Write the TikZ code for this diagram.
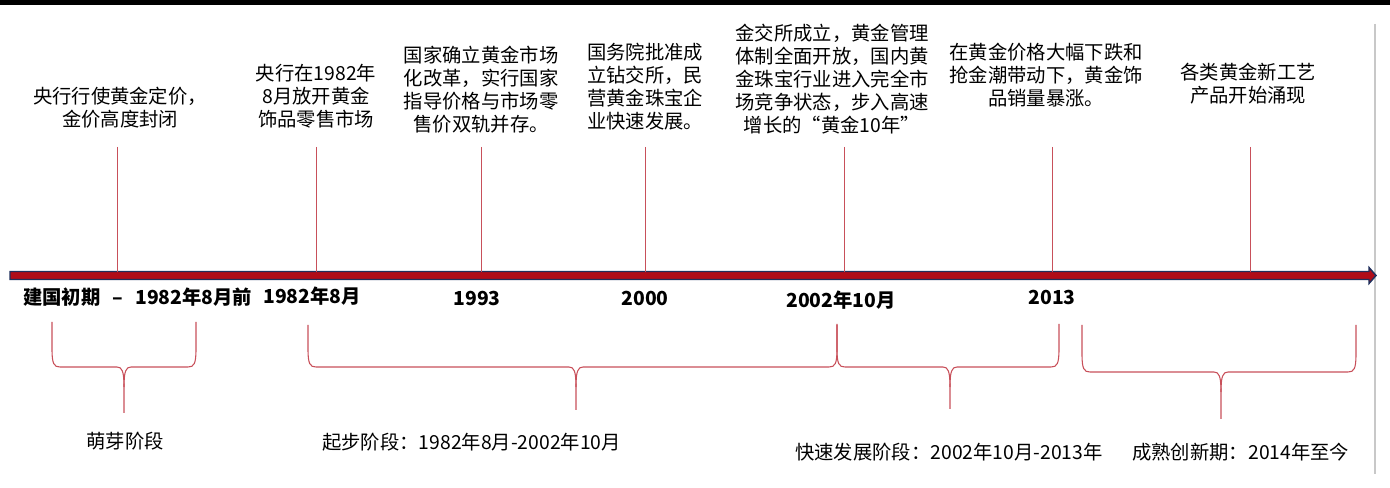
\documentclass[tikz,border=0pt]{standalone}
\usepackage{fontspec}
\setmainfont{Noto Sans CJK SC}
\definecolor{tickred}{HTML}{C8505A}
\definecolor{barred}{HTML}{B00C18}
\definecolor{barnavy}{HTML}{1F2F5C}
\definecolor{edgegray}{HTML}{C8C8C8}
\tikzset{
  event/.style={align=center, inner sep=0pt, font=\fontsize{14.5}{17.25}\selectfont},
  axislabel/.style={inner sep=0pt, font=\fontsize{14.5}{16}\selectfont\bfseries},
  stagelabel/.style={inner sep=0pt, font=\fontsize{14.5}{17}\selectfont},
  tickline/.style={draw=tickred, line width=0.6pt},
  bracepath/.style={draw=tickred, line width=0.8pt},
}
\begin{document}
\begin{tikzpicture}[x=0.75pt,y=-0.75pt]
\useasboundingbox (0,0) rectangle (1390,488);
% top black rule
\fill[black] (0,0) rectangle (1390,5);
% right gray edge
\coordinate (gtop) at (1375,24);
\coordinate (gbot) at (1375,474);
\draw[edgegray, line width=1pt] (gtop) -- (gbot);
% timeline arrow
\filldraw[fill=barred, draw=barnavy, line width=1.1pt]
  (10,271.5) -- (1369,271.5) -- (1369,267.5) -- (1376,275.5) -- (1369,283.5) -- (1369,279.5) -- (10,279.5) -- cycle;

% event texts
\node[event] (e1) at (120,108) {央行行使黄金定价，\\金价高度封闭};
\node[event] (e2) at (316,96) {央行在1982年\\8月放开黄金\\饰品零售市场};
\node[event] (e3) at (481,90) {国家确立黄金市场\\化改革，实行国家\\指导价格与市场零\\售价双轨并存。};
\node[event] (e4) at (645,87) {国务院批准成\\立钻交所，民\\营黄金珠宝企\\业快速发展。};
\node[event] (e5) at (832,79) {金交所成立，黄金管理\\体制全面开放，国内黄\\金珠宝行业进入完全市\\场竞争状态，步入高速\\增长的“黄金10年”};
\node[event] (e6) at (1046,75) {在黄金价格大幅下跌和\\抢金潮带动下，黄金饰\\品销量暴涨。};
\node[event] (e7) at (1248,84) {各类黄金新工艺\\产品开始涌现};

% ticks
\foreach \i/\x in {1/117,2/316,3/481,4/645,5/844,6/1052,7/1250}{
  \coordinate (t\i a) at (\x,147);
  \coordinate (t\i b) at (\x,272);
  \draw[tickline] (t\i a) -- (t\i b);
}

% axis labels
\node[axislabel, anchor=west] (a1) at (23,297) {建国初期 \, – \, 1982年8月前};
\node[axislabel, anchor=west] (a2) at (263,296) {1982年8月};
\node[axislabel] (a3) at (477,298) {1993};
\node[axislabel] (a4) at (645,298) {2000};
\node[axislabel] (a5) at (841,300) {2002年10月};
\node[axislabel] (a6) at (1052,297) {2013};

% braces
\foreach \xl/\xr/\xc/\top/\h/\tip in {52/196/124/322/367/413, 308/837/576/325/367/410, 837/1059/950/324/367/409, 1082/1356/1221/325/372/419}{
  \draw[bracepath] (\xl,\top) -- (\xl,\h-18) .. controls (\xl,\h-3) and (\xl+2,\h) .. (\xl+8,\h)
     -- (\xc-7,\h) .. controls (\xc-2,\h) and (\xc,\h+4) .. (\xc,\h+20) -- (\xc,\tip);
  \draw[bracepath] (\xr,\top) -- (\xr,\h-18) .. controls (\xr,\h-3) and (\xr-2,\h) .. (\xr-8,\h)
     -- (\xc+7,\h) .. controls (\xc+2,\h) and (\xc,\h+4) .. (\xc,\h+20);
}

% stage labels
\node[stagelabel] (s1) at (125,441) {萌芽阶段};
\node[stagelabel, anchor=west] (s2) at (322,442) {起步阶段：1982年8月-2002年10月};
\node[stagelabel, anchor=west] (s3) at (795,452) {快速发展阶段：2002年10月-2013年};
\node[stagelabel, anchor=west] (s4) at (1132,452) {成熟创新期：2014年至今};
\end{tikzpicture}
\end{document}
